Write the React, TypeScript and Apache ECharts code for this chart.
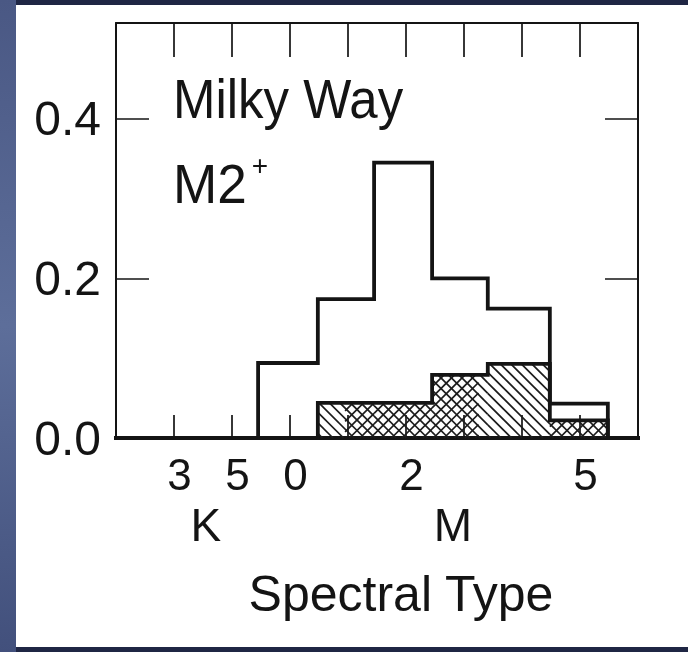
import { useEffect, useRef } from 'react';
import * as echarts from 'echarts';

// Spectral subclass axis: K3=0, K5=1, M0=2, M1=3 ... M5=7
const X_MIN = -1;
const X_MAX = 8;
const binEdges = [1.45, 2.48, 3.45, 4.45, 5.41, 6.48, 7.48];
// fraction of all stars per spectral bin
const allStars = [0.094, 0.174, 0.345, 0.2, 0.162, 0.043];
// fraction of the hatched subsample per spectral bin
const hatchedStars = [0, 0.044, 0.044, 0.079, 0.093, 0.022];
// stretches of the hatched area that carry the second (cross) hatching
const crossSpans = [
  [2.95, 5.25],
  [6.48, 7.48],
];
const tickPositions = [0, 1, 2, 4, 7];
const tickLabels = ['3', '5', '0', '2', '5'];
const classPositions = [0.55, 4.81];
const classLabels = ['K', 'M'];
const yTicks = [0, 0.2, 0.4];

const FONT = '"Liberation Sans", Arial, sans-serif';
const INK = '#141414';

function stepPoints(values: number[]): number[][] {
  const pts: number[][] = [
    [X_MIN, 0],
    [binEdges[0], 0],
  ];
  values.forEach((v, i) => {
    pts.push([binEdges[i], v], [binEdges[i + 1], v]);
  });
  pts.push([binEdges[binEdges.length - 1], 0], [X_MAX, 0]);
  return pts;
}

const hatchBins = hatchedStars
  .map((v, i) => [binEdges[i], binEdges[i + 1], v])
  .filter((d) => d[2] > 0);

const HATCH_STEP = 10.5;
const hatchStyle = { stroke: '#1c1c1c', lineWidth: 1.7 };

function backHatch(x0: number, y0: number, x1: number, y1: number) {
  const out: any[] = [];
  for (let c = Math.ceil((x0 - y1) / HATCH_STEP) * HATCH_STEP; c <= x1 - y0; c += HATCH_STEP) {
    const ya = Math.max(y0, x0 - c);
    const yb = Math.min(y1, x1 - c);
    if (yb > ya) {
      out.push({ type: 'line', shape: { x1: ya + c, y1: ya, x2: yb + c, y2: yb }, style: hatchStyle, silent: true });
    }
  }
  return out;
}

function forwardHatch(x0: number, y0: number, x1: number, y1: number) {
  const out: any[] = [];
  for (let c = Math.ceil((x0 + y0) / HATCH_STEP) * HATCH_STEP; c <= x1 + y1; c += HATCH_STEP) {
    const ya = Math.max(y0, c - x1);
    const yb = Math.min(y1, c - x0);
    if (yb > ya) {
      out.push({ type: 'line', shape: { x1: c - ya, y1: ya, x2: c - yb, y2: yb }, style: hatchStyle, silent: true });
    }
  }
  return out;
}

export default function App() {
  const ref = useRef<HTMLDivElement>(null);

  useEffect(() => {
    if (!ref.current) return;
    const chart = echarts.init(ref.current, undefined, { renderer: 'svg' });

    const frameLine = { color: INK, width: 2 };
    const tickLine = { color: INK, width: 1.7 };

    chart.setOption({
      animation: false,
      backgroundColor: 'transparent',
      grid: { left: 116, right: 50, top: 23, bottom: 214 },
      xAxis: [
        {
          type: 'value',
          position: 'bottom',
          min: X_MIN,
          max: X_MAX,
          interval: 1,
          axisLine: { show: true, onZero: false, lineStyle: { color: INK, width: 3.8 } },
          axisTick: { show: true, inside: true, length: 23, lineStyle: tickLine },
          axisLabel: {
            show: true,
            margin: 14,
            fontSize: 44,
            fontFamily: FONT,
            color: INK,
            padding: [0, 0, 0, 11],
            formatter: (v: number) => {
              const i = tickPositions.indexOf(Math.round(v * 100) / 100);
              return i >= 0 ? tickLabels[i] : '';
            },
          },
          splitLine: { show: false },
          name: 'Spectral Type',
          nameLocation: 'middle',
          nameGap: 131,
          nameTextStyle: { fontSize: 50, fontFamily: FONT, color: INK, padding: [0, 0, 0, 48] },
        },
        {
          type: 'value',
          position: 'top',
          min: X_MIN,
          max: X_MAX,
          interval: 1,
          axisLine: { show: true, onZero: false, lineStyle: frameLine },
          axisTick: { show: true, inside: true, length: 34, lineStyle: tickLine },
          axisLabel: { show: false },
          splitLine: { show: false },
        },
      ],
      yAxis: [
        {
          type: 'value',
          position: 'left',
          min: 0,
          max: 0.52,
          interval: 0.2,
          axisLine: { show: true, onZero: false, lineStyle: frameLine },
          axisTick: { show: true, inside: true, length: 33, lineStyle: tickLine },
          axisLabel: {
            show: true,
            margin: 15,
            fontSize: 48,
            fontFamily: FONT,
            color: INK,
            formatter: (v: number) => (yTicks.some((t) => Math.abs(t - v) < 1e-6) ? v.toFixed(1) : ''),
          },
          splitLine: { show: false },
        },
        {
          type: 'value',
          position: 'right',
          min: 0,
          max: 0.52,
          interval: 0.2,
          axisLine: { show: true, onZero: false, lineStyle: frameLine },
          axisTick: { show: true, inside: true, length: 33, lineStyle: tickLine },
          axisLabel: { show: false },
          splitLine: { show: false },
        },
      ],
      series: [
        {
          type: 'custom',
          name: 'hatch',
          xAxisIndex: 0,
          yAxisIndex: 0,
          z: 2,
          silent: true,
          data: hatchBins,
          renderItem: (_params: any, api: any) => {
            const l = api.value(0);
            const r = api.value(1);
            const v = api.value(2);
            const p0 = api.coord([l, v]);
            const p1 = api.coord([r, 0]);
            const children = backHatch(p0[0], p0[1], p1[0], p1[1]);
            crossSpans.forEach(([a, b]) => {
              const cl = Math.max(a, l);
              const cr = Math.min(b, r);
              if (cr > cl) {
                const q0 = api.coord([cl, v]);
                const q1 = api.coord([cr, 0]);
                children.push(...forwardHatch(q0[0], q0[1], q1[0], q1[1]));
              }
            });
            return { type: 'group', children };
          },
        },
        {
          type: 'line',
          name: 'hatched outline',
          xAxisIndex: 0,
          yAxisIndex: 0,
          z: 3,
          clip: false,
          symbol: 'none',
          data: stepPoints(hatchedStars),
          lineStyle: { color: INK, width: 3.8, join: 'miter', cap: 'square' },
        },
        {
          type: 'line',
          name: 'all',
          xAxisIndex: 0,
          yAxisIndex: 0,
          z: 4,
          clip: false,
          symbol: 'none',
          data: stepPoints(allStars),
          lineStyle: { color: INK, width: 3.8, join: 'miter', cap: 'square' },
        },
      ],
    });

    const baseY = chart.convertToPixel({ yAxisIndex: 0 }, 0) as number;
    const classTexts = classLabels.map((t, i) => ({
      type: 'text',
      z: 10,
      style: {
        text: t,
        x: chart.convertToPixel({ xAxisIndex: 0 }, classPositions[i]) as number,
        y: baseY + 87,
        fontSize: 46,
        fontFamily: FONT,
        fill: INK,
        align: 'center',
        verticalAlign: 'middle',
      },
    }));

    chart.setOption({
      graphic: [
        { type: 'rect', z: -100, silent: true, shape: { x: 0, y: 0, width: 688, height: 652 }, style: { fill: '#1f2644' } },
        {
          type: 'rect',
          z: -99,
          silent: true,
          shape: { x: 0, y: 0, width: 16, height: 652 },
          style: {
            fill: new echarts.graphic.LinearGradient(0, 0, 0, 1, [
              { offset: 0, color: '#4a5884' },
              { offset: 0.5, color: '#5d6e9a' },
              { offset: 1, color: '#42507c' },
            ]),
          },
        },
        { type: 'rect', z: -98, silent: true, shape: { x: 16, y: 5, width: 672, height: 642 }, style: { fill: '#ffffff' } },
        {
          type: 'text',
          z: 10,
          x: 173,
          y: 99,
          scaleX: 0.91,
          style: { text: 'Milky Way', x: 0, y: 0, fontSize: 56, fontFamily: FONT, fill: INK, align: 'left', verticalAlign: 'middle' },
        },
        {
          type: 'text',
          z: 10,
          x: 173,
          y: 184,
          scaleX: 0.95,
          style: { text: 'M2', x: 0, y: 0, fontSize: 56, fontFamily: FONT, fill: INK, align: 'left', verticalAlign: 'middle' },
        },
        {
          type: 'text',
          z: 10,
          style: { text: '+', x: 260, y: 165, fontSize: 28, fontFamily: FONT, fill: INK, align: 'center', verticalAlign: 'middle' },
        },
        ...classTexts,
      ],
    });

    return () => chart.dispose();
  }, []);

  return <div ref={ref} style={{ position: 'fixed', left: 0, top: 0, width: 688, height: 652 }} />;
}
